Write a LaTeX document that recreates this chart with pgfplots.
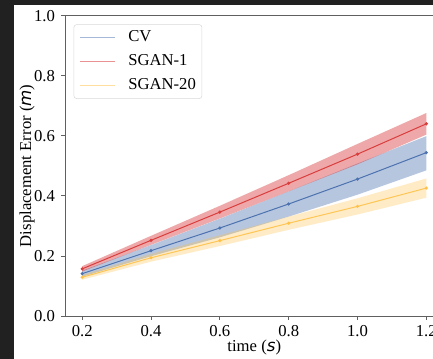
\documentclass[border=0pt]{standalone}
\usepackage{fontspec}
\setmainfont{Liberation Serif}
\newfontfamily\dvs{DejaVu Sans}
\usepackage{pgfplots}
\usepackage{pgfplotstable}
\pgfplotsset{compat=1.18}
\definecolor{bgdark}{HTML}{212121}
\definecolor{cvblue}{HTML}{4C72B0}
\definecolor{sgred}{HTML}{D62728}
\definecolor{sgyel}{HTML}{FFC043}
\definecolor{spine}{HTML}{606060}
\newcommand{\F}{\fontsize{12.5pt}{15pt}\selectfont\rmfamily}

\pgfplotstableread{
x   m
0.2 0.141
0.4 0.2175
0.6 0.293
0.8 0.373
1.0 0.456
1.2 0.544
}\cv
\pgfplotstableread{
x   m
0.2 0.157
0.4 0.252
0.6 0.346
0.8 0.442
1.0 0.539
1.2 0.640
}\sgone
\pgfplotstableread{
x   m
0.2 0.129
0.4 0.194
0.6 0.251
0.8 0.309
1.0 0.365
1.2 0.426
}\sgtw

\begin{document}
\begin{tikzpicture}
\fill[bgdark] (0,0) rectangle (324.75pt,269.25pt);
\fill[white] (10.5pt,0) rectangle (324.75pt,265.5pt);
\begin{scope}
\clip (10.5pt,0) rectangle (324.75pt,265.5pt);
\begin{axis}[
  at={(48.75pt,32.25pt)}, anchor=south west,
  scale only axis, width=283.9pt, height=225.2pt,
  xmin=0.15, xmax=1.25, ymin=0, ymax=1,
  xtick={0.2,0.4,0.6,0.8,1.0,1.2},
  ytick={0,0.2,0.4,0.6,0.8,1.0},
  xticklabel={\pgfmathprintnumber[fixed,fixed zerofill,precision=1,assume math mode=true]{\tick}},
  yticklabel={\pgfmathprintnumber[fixed,fixed zerofill,precision=1,assume math mode=true]{\tick}},
  tick pos=left, tick align=outside, major tick length=3pt,
  axis line style={spine, line width=0.6pt},
  tick style={spine, line width=0.6pt},
  ticklabel style={font=\F},
  xticklabel style={anchor=base, yshift=-12.5pt},
  yticklabel style={anchor=east, xshift=-1pt},
  xlabel={time ({\dvs\itshape s})},
  ylabel={Displacement Error ({\dvs\itshape m})},
  xlabel style={at={(axis description cs:0.5,0)}, anchor=base, yshift=-26.8pt, font=\F},
  ylabel style={at={(axis description cs:-0.1004,0.5)}, anchor=center, font=\F},
  legend style={at={(axis description cs:0,1)}, anchor=north west, xshift=6.5pt, yshift=-6.5pt,
    draw=black!15, rounded corners=2pt, fill=white, font=\F,
    inner xsep=4.5pt, inner ysep=4pt, row sep=6pt,
    nodes={inner sep=0pt, text height=8.8pt, text depth=3pt},
    /tikz/every odd column/.append style={column sep=9.5pt}},
  legend cell align=left,
  legend image code/.code={\draw[#1] (0pt,0pt) -- (26pt,0pt);},
]
% legend images first, in the legend's order
\addlegendimage{cvblue, opacity=0.5, line width=0.8pt}
\addlegendimage{sgred, opacity=0.5, line width=0.8pt}
\addlegendimage{sgyel, opacity=0.5, line width=0.8pt}

% bands (upper edge left to right, then lower edge right to left)
\addplot[fill=cvblue, fill opacity=0.4, draw=none, forget plot] coordinates {
 (0.2,0.151) (0.4,0.236) (0.6,0.324) (0.8,0.415) (1.0,0.508) (1.2,0.599)
 (1.2,0.485) (1.0,0.404) (0.8,0.331) (0.6,0.262) (0.4,0.199) (0.2,0.131)};
\addplot[fill=sgred, fill opacity=0.4, draw=none, forget plot] coordinates {
 (0.2,0.166) (0.4,0.267) (0.6,0.367) (0.8,0.469) (1.0,0.573) (1.2,0.676)
 (1.2,0.604) (1.0,0.505) (0.8,0.415) (0.6,0.325) (0.4,0.237) (0.2,0.148)};
\addplot[fill=sgyel, fill opacity=0.3, draw=none, forget plot] coordinates {
 (0.2,0.137) (0.4,0.207) (0.6,0.269) (0.8,0.331) (1.0,0.392) (1.2,0.458)
 (1.2,0.394) (1.0,0.338) (0.8,0.287) (0.6,0.233) (0.4,0.181) (0.2,0.121)};

\addplot[cvblue, line width=0.75pt, mark=*, mark size=0.8pt, forget plot] table[x=x,y=m]{\cv};
\addplot[sgred!90, line width=0.75pt, mark=*, mark size=0.8pt, forget plot] table[x=x,y=m]{\sgone};
\addplot[sgyel, opacity=0.85, line width=0.75pt, mark=*, mark size=0.8pt, forget plot] table[x=x,y=m]{\sgtw};

\legend{CV, SGAN-1, SGAN-20}
\end{axis}
\end{scope}
\pgfresetboundingbox
\path[use as bounding box] (0,0) rectangle (324.75pt,269.25pt);
\end{tikzpicture}
\end{document}
